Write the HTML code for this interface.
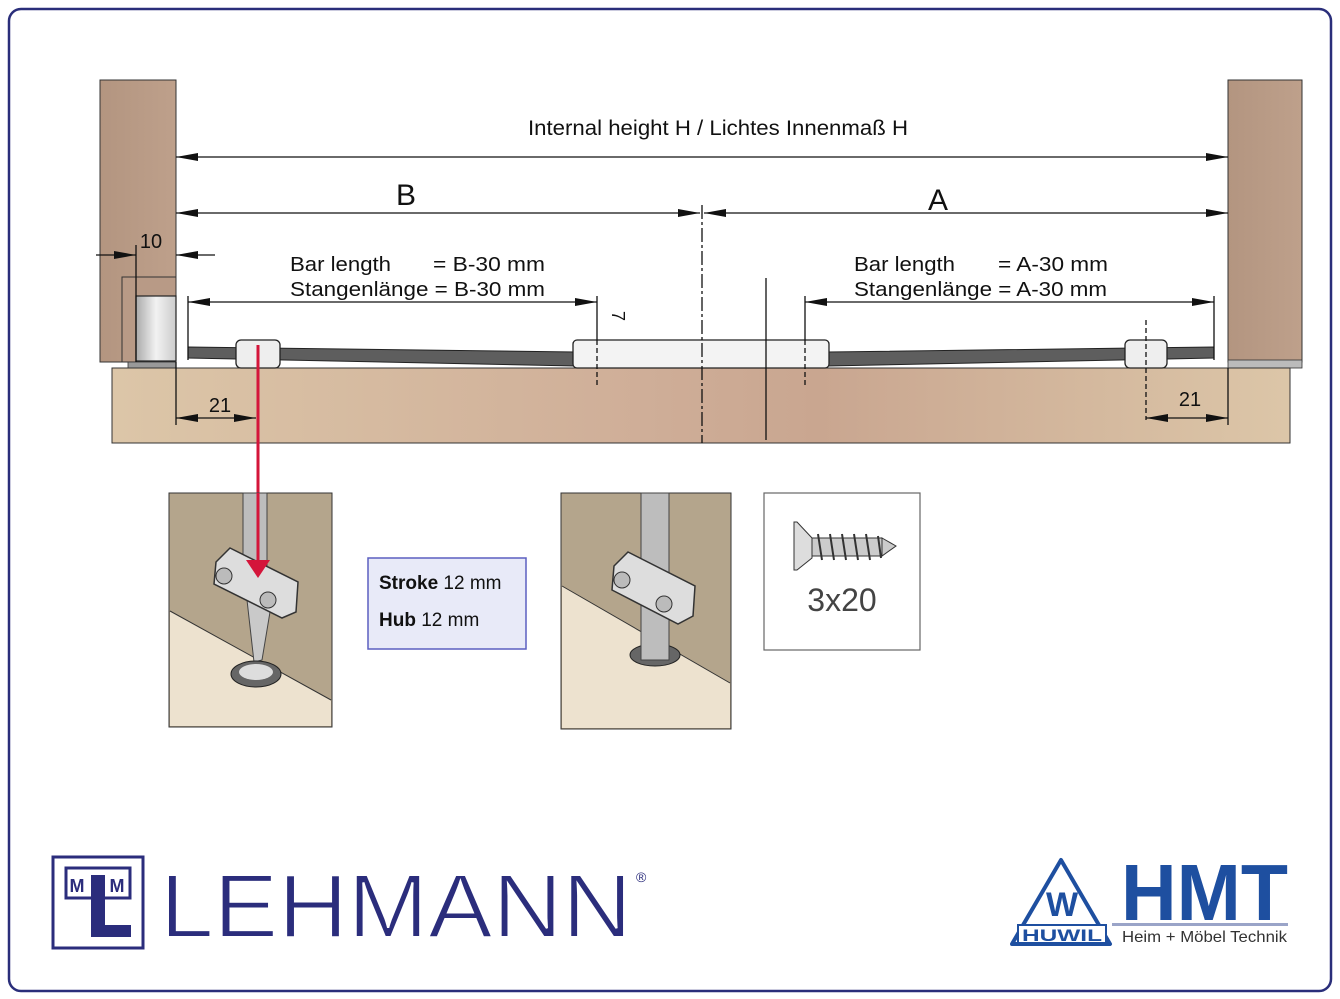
<!DOCTYPE html>
<html><head><meta charset="utf-8"><style>
html,body{margin:0;padding:0;background:#fff;}
svg{display:block;font-family:"Liberation Sans",sans-serif;}
</style></head><body>
<svg width="1340" height="999" viewBox="0 0 1340 999" xmlns="http://www.w3.org/2000/svg">
<defs>
<linearGradient id="board" x1="0" x2="1" y1="0" y2="0">
<stop offset="0" stop-color="#dcc6a8"/><stop offset="0.45" stop-color="#cfae98"/><stop offset="0.6" stop-color="#c9a690"/><stop offset="1" stop-color="#dcc6a8"/></linearGradient>
<linearGradient id="post" x1="0" x2="1"><stop offset="0" stop-color="#b39580"/><stop offset="1" stop-color="#bea08b"/></linearGradient>
<linearGradient id="cyl" x1="0" x2="1"><stop offset="0" stop-color="#aaa"/><stop offset="0.5" stop-color="#f2f2f2"/><stop offset="1" stop-color="#ccc"/></linearGradient>
<marker id="ar" viewBox="0 0 22 8" refX="22" refY="4" markerWidth="22" markerHeight="8" markerUnits="userSpaceOnUse" orient="auto-start-reverse"><path d="M0,0 L22,4 L0,8 z" fill="#111"/></marker>
</defs>
<rect x="9" y="9" width="1322" height="982" rx="12" fill="#fff" stroke="#2a2e7a" stroke-width="2.5"/>

<rect x="100" y="80" width="76" height="282" fill="url(#post)" stroke="#333" stroke-width="1"/>
<rect x="1228" y="80" width="74" height="282" fill="url(#post)" stroke="#333" stroke-width="1"/>
<rect x="122" y="277" width="54" height="85" fill="#b89a86" stroke="#333" stroke-width="1"/>
<rect x="136" y="296" width="40" height="65" fill="url(#cyl)" stroke="#222" stroke-width="1.2"/>
<rect x="128" y="362" width="48" height="6" fill="#999" stroke="#333" stroke-width="0.8"/>
<rect x="1228" y="360" width="74" height="8" fill="#bbb" stroke="#333" stroke-width="0.8"/>
<rect x="112" y="368" width="1178" height="75" fill="url(#board)" stroke="#333" stroke-width="1"/>
<polygon points="188,347 575,352 575,366 188,358" fill="#5e5e5e" stroke="#222"/>
<polygon points="828,352 1214,347 1214,358 828,366" fill="#5e5e5e" stroke="#222"/>
<rect x="573" y="340" width="256" height="28" rx="4" fill="#f3f3f3" stroke="#222" stroke-width="1.3"/>
<rect x="236" y="340" width="44" height="28" rx="5" fill="#eee" stroke="#222" stroke-width="1.3"/>
<rect x="1125" y="340" width="42" height="28" rx="5" fill="#eee" stroke="#222" stroke-width="1.3"/>

<g stroke="#111" stroke-width="1.3" fill="none">
<line x1="176" y1="157" x2="1228" y2="157" marker-start="url(#ar)" marker-end="url(#ar)"/>
<line x1="176" y1="213" x2="700" y2="213" marker-start="url(#ar)" marker-end="url(#ar)"/>
<line x1="704" y1="213" x2="1228" y2="213" marker-start="url(#ar)" marker-end="url(#ar)"/>
<line x1="188" y1="302" x2="597" y2="302" marker-start="url(#ar)" marker-end="url(#ar)"/>
<line x1="805" y1="302" x2="1214" y2="302" marker-start="url(#ar)" marker-end="url(#ar)"/>
<line x1="188" y1="296" x2="188" y2="360"/>
<line x1="597" y1="296" x2="597" y2="340"/>
<line x1="805" y1="296" x2="805" y2="340"/>
<line x1="1214" y1="296" x2="1214" y2="360"/>
<line x1="597" y1="340" x2="597" y2="386" stroke-dasharray="5,3"/>
<line x1="805" y1="340" x2="805" y2="386" stroke-dasharray="5,3"/>
<line x1="766" y1="278" x2="766" y2="440"/>
<line x1="702" y1="205" x2="702" y2="443" stroke-dasharray="14,3,3,3"/>
<line x1="1146" y1="320" x2="1146" y2="420" stroke-dasharray="5,3"/>
<line x1="96" y1="255" x2="136" y2="255" marker-end="url(#ar)"/>
<line x1="215" y1="255" x2="176" y2="255" marker-end="url(#ar)"/>
<line x1="136" y1="245" x2="136" y2="362"/>
<line x1="176" y1="362" x2="176" y2="425"/>
<line x1="176" y1="418" x2="256" y2="418" marker-start="url(#ar)" marker-end="url(#ar)"/>
<line x1="1146" y1="418" x2="1228" y2="418" marker-start="url(#ar)" marker-end="url(#ar)"/>
<line x1="1228" y1="368" x2="1228" y2="425"/>
</g>
<line x1="258" y1="345" x2="258" y2="562" stroke="#d4153a" stroke-width="3"/>
<polygon points="246,560 270,560 258,578" fill="#d4153a"/>

<g fill="#111">
<text x="718" y="135" font-size="21" text-anchor="middle" textLength="380" lengthAdjust="spacingAndGlyphs">Internal height H / Lichtes Innenmaß H</text>
<text x="406" y="205" font-size="30" text-anchor="middle">B</text>
<text x="938" y="210" font-size="30" text-anchor="middle">A</text>
<text x="290" y="271" font-size="20" textLength="101" lengthAdjust="spacingAndGlyphs">Bar length</text><text x="433" y="271" font-size="20" textLength="112" lengthAdjust="spacingAndGlyphs">= B-30 mm</text>
<text x="290" y="296" font-size="20" textLength="255" lengthAdjust="spacingAndGlyphs">Stangenlänge = B-30 mm</text>
<text x="854" y="271" font-size="20" textLength="101" lengthAdjust="spacingAndGlyphs">Bar length</text><text x="998" y="271" font-size="20" textLength="110" lengthAdjust="spacingAndGlyphs">= A-30 mm</text>
<text x="854" y="296" font-size="20" textLength="253" lengthAdjust="spacingAndGlyphs">Stangenlänge = A-30 mm</text>
<text x="0" y="0" font-size="18" transform="translate(612,311) rotate(90)">7</text>
<text x="151" y="248" font-size="20" text-anchor="middle">10</text>
<text x="220" y="412" font-size="20" text-anchor="middle">21</text>
<text x="1190" y="406" font-size="20" text-anchor="middle">21</text>
</g>

<rect x="169" y="493" width="163" height="234" fill="#b4a58c" stroke="#333"/>
<polygon points="170,611 331,700 331,726 170,726" fill="#ede2cf"/>
<line x1="170" y1="611" x2="331" y2="700" stroke="#333"/>
<rect x="243" y="493" width="24" height="80" fill="#bdbdbd" stroke="#444"/>
<polygon points="247,600 272,600 262,660 254,662" fill="#c9c9c9" stroke="#444"/>
<ellipse cx="256" cy="674" rx="25" ry="13" fill="#666" stroke="#222"/>
<ellipse cx="256" cy="672" rx="17" ry="8" fill="#ddd"/>
<polygon points="216,562 230,548 298,582 296,612 282,618 214,584" fill="#ddd" stroke="#333" stroke-width="1.5"/>
<circle cx="224" cy="576" r="8" fill="#bbb" stroke="#333"/><circle cx="268" cy="600" r="8" fill="#bbb" stroke="#333"/>
<line x1="258" y1="493" x2="258" y2="562" stroke="#d4153a" stroke-width="3"/>
<polygon points="246,560 270,560 258,578" fill="#d4153a"/>

<rect x="368" y="558" width="158" height="91" fill="#e8eaf8" stroke="#5b5fc0" stroke-width="1.5"/>
<text x="379" y="589" font-size="19" fill="#111"><tspan font-weight="bold">Stroke</tspan> 12 mm</text>
<text x="379" y="626" font-size="19" fill="#111"><tspan font-weight="bold">Hub</tspan> 12 mm</text>

<rect x="561" y="493" width="170" height="236" fill="#b4a58c" stroke="#333"/>
<polygon points="562,586 730,683 730,728 562,728" fill="#ede2cf"/>
<line x1="562" y1="586" x2="730" y2="683" stroke="#333"/>
<ellipse cx="655" cy="655" rx="25" ry="11" fill="#666" stroke="#222"/>
<rect x="641" y="493" width="28" height="167" fill="#bdbdbd" stroke="#444"/>
<polygon points="614,566 628,552 695,586 693,616 678,624 612,590" fill="#ddd" stroke="#333" stroke-width="1.5"/>
<circle cx="622" cy="580" r="8" fill="#bbb" stroke="#333"/><circle cx="664" cy="604" r="8" fill="#bbb" stroke="#333"/>

<rect x="764" y="493" width="156" height="157" fill="#fff" stroke="#666" stroke-width="1.2"/>
<polygon points="794,522 797,522 812,538 812,558 797,570 794,570" fill="#ddd" stroke="#333"/>
<rect x="812" y="538" width="70" height="18" fill="#ccc" stroke="#333"/>
<polygon points="882,538 896,546 882,556" fill="#ccc" stroke="#333"/>
<g stroke="#333" stroke-width="2"><line x1="818" y1="534" x2="822" y2="560"/><line x1="830" y1="534" x2="834" y2="560"/><line x1="842" y1="534" x2="846" y2="560"/><line x1="854" y1="534" x2="858" y2="560"/><line x1="866" y1="534" x2="870" y2="560"/><line x1="878" y1="536" x2="881" y2="558"/></g>
<text x="842" y="611" font-size="32" fill="#444" text-anchor="middle">3x20</text>

<rect x="53" y="857" width="90" height="91" fill="#fff" stroke="#2b2d7c" stroke-width="3"/>
<rect x="66" y="868" width="64" height="30" fill="none" stroke="#2b2d7c" stroke-width="3"/>
<text x="77" y="892" font-size="18" font-weight="bold" fill="#2b2d7c" text-anchor="middle">M</text>
<text x="117" y="892" font-size="18" font-weight="bold" fill="#2b2d7c" text-anchor="middle">M</text>
<rect x="91" y="875" width="14" height="62" fill="#2b2d7c"/>
<rect x="91" y="925" width="40" height="12" fill="#2b2d7c"/>
<text x="160" y="937" font-size="90" fill="#2b2d7c" stroke="#fff" stroke-width="2" textLength="472" lengthAdjust="spacingAndGlyphs">LEHMANN</text>
<text x="636" y="882" font-size="14" fill="#2b2d7c">®</text>

<polygon points="1061,860 1110,944 1012,944" fill="#fff" stroke="#1e4fa0" stroke-width="4" stroke-linejoin="round"/>
<text x="1062" y="916" font-size="34" font-weight="bold" fill="#1e4fa0" text-anchor="middle">W</text>
<rect x="1018" y="925" width="88" height="18" fill="#fff" stroke="#1e4fa0" stroke-width="2"/>
<text x="1062" y="941" font-size="17" font-weight="bold" fill="#1e4fa0" text-anchor="middle" textLength="80" lengthAdjust="spacingAndGlyphs">HUWIL</text>
<text x="1121" y="920" font-size="80" font-weight="bold" fill="#1e4fa0" textLength="167" lengthAdjust="spacingAndGlyphs">HMT</text>
<rect x="1112" y="923" width="176" height="3" fill="#9aa4c8"/>
<text x="1122" y="942" font-size="16" fill="#333" textLength="165" lengthAdjust="spacingAndGlyphs">Heim + Möbel Technik</text>
</svg>
</body></html>
